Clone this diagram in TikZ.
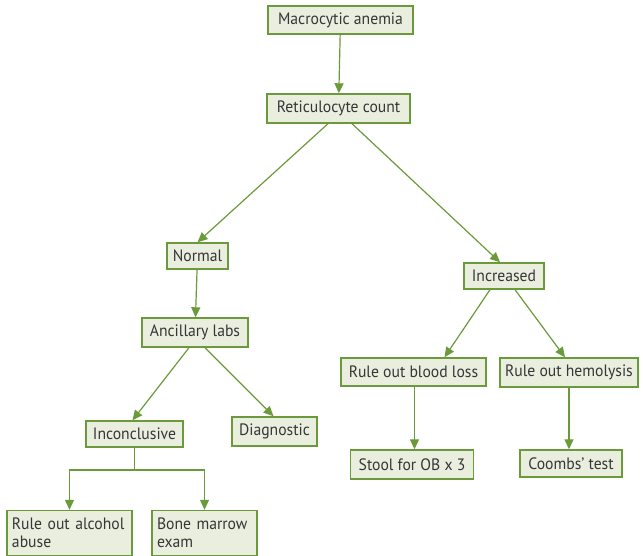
\documentclass[tikz,border=0pt]{standalone}
\usepackage{fontspec}
\setmainfont[FakeStretch=0.95]{PT Sans}
\usetikzlibrary{arrows.meta}
\definecolor{boxline}{HTML}{6A9A3A}
\definecolor{boxfill}{HTML}{E9EEDF}
\definecolor{boxtext}{HTML}{363636}

\begin{document}
\begin{tikzpicture}[x=1pt,y=-1pt,
    box/.style={draw=boxline,fill=boxfill,line width=1.4pt,text=boxtext,
      font=\fontsize{16.5}{18}\selectfont,inner sep=0pt,minimum height=29pt},
    twoline/.style={box,minimum height=45pt,align=left,
      font=\fontsize{16.5}{17.5}\selectfont},
    link/.style={draw=boxline,line width=1.2pt,-{Triangle[length=10pt,width=9pt]}}]
    \useasboundingbox (0,0) rectangle (643,556);
    \node[box,minimum width=145pt,minimum height=28pt] (anemia) at (340.5,20) {Macrocytic anemia};
    \node[box,minimum width=143pt] (retic) at (338.5,108.5) {Reticulocyte count};
    \node[box,minimum width=61pt,minimum height=26pt] (normal) at (197.5,256) {Normal};
    \node[box,minimum width=80pt,minimum height=26pt] (increased) at (504,276) {Increased};
    \node[box,minimum width=106pt] (ancillary) at (195,332.5) {Ancillary labs};
    \node[box,minimum width=97pt,minimum height=26pt] (inconclusive) at (134.5,434) {Inconclusive};
    \node[box,minimum width=85pt] (diagnostic) at (274.5,431.5) {Diagnostic};
    \node[box,minimum width=145pt,minimum height=28pt] (bloodloss) at (413.5,372) {Rule out blood loss};
    \node[box,minimum width=138pt] (hemolysis) at (569,372.5) {Rule out hemolysis};
    \node[box,minimum width=123pt] (stool) at (412,464.5) {Stool for OB x 3};
    \node[box,minimum width=102pt,minimum height=27pt] (coombs) at (571,463.5) {Coombs' test};
    \node[twoline,minimum width=125pt,text width=115pt] (alcohol) at (69.5,533) {Rule out alcohol\\abuse};
    \node[twoline,minimum width=105pt,text width=95pt] (marrow) at (204.5,533) {Bone marrow\\exam};
    \coordinate (split) at (134.5,470);
    \draw[link] (anemia) -- (retic);
    \draw[link] ([xshift=-10.5pt]retic.south) -- (normal.north);
    \draw[link] ([xshift=13.5pt]retic.south) -- ([xshift=-4pt]increased.north);
    \draw[link] (normal) -- (ancillary);
    \draw[link] ([xshift=-6pt]ancillary.south) -- ([xshift=-2pt]inconclusive.north);
    \draw[link] ([xshift=10pt]ancillary.south) -- ([xshift=-1pt]diagnostic.north);
    \draw[link] ([xshift=-14pt]increased.south) -- ([xshift=31pt]bloodloss.north);
    \draw[link] ([xshift=11pt]increased.south) -- ([xshift=-4pt]hemolysis.north);
    \draw[link] ([xshift=1pt]bloodloss.south) -- ([xshift=1pt]bloodloss.south |- stool.north);
    \draw[link] (hemolysis) -- (hemolysis |- coombs.north);
    \draw[boxline,line width=1.2pt] (inconclusive.south) -- (split);
    \draw[link] (split) -| (alcohol.north);
    \draw[link] (split) -| (marrow.north);
\end{tikzpicture}
\end{document}
